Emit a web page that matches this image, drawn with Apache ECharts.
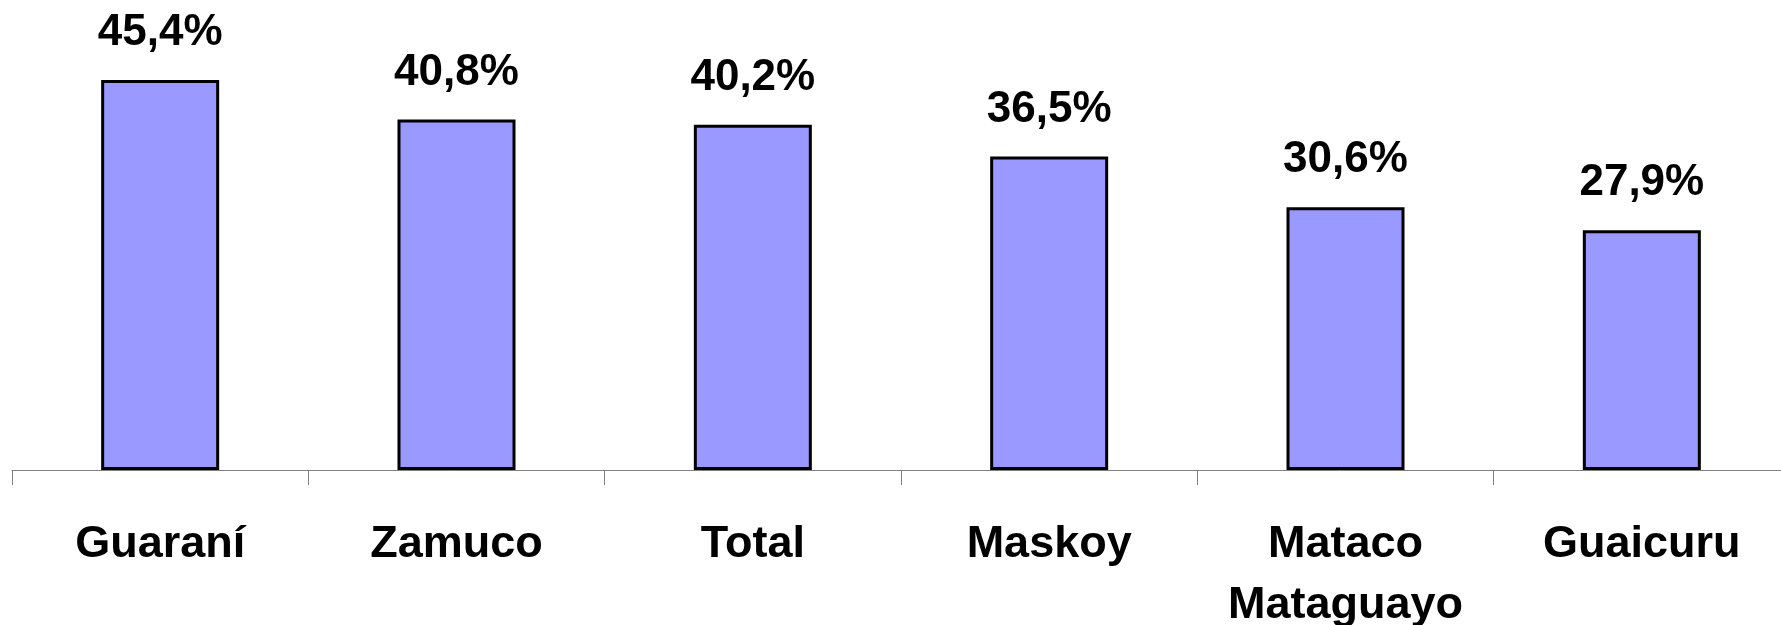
<!DOCTYPE html>
<html>
<head>
<meta charset="utf-8">
<script src="https://cdn.jsdelivr.net/npm/echarts@6/dist/echarts.min.js"></script>
<style>
html,body{margin:0;padding:0;background:#fff;}
#c{width:1781px;height:625px;}
</style>
</head>
<body>
<div id="c"></div>
<script>
var categories = ["Guaraní", "Zamuco", "Total", "Maskoy", "Mataco\nMataguayo", "Guaicuru"];
var values = [45.4, 40.8, 40.2, 36.5, 30.6, 27.9];

var chart = echarts.init(document.getElementById('c'), null, {renderer: 'canvas'});
var font = '"Liberation Sans", Arial, Helvetica, sans-serif';
chart.setOption({
  animation: false,
  backgroundColor: '#ffffff',
  grid: {left: 12, width: 1778, top: 40.5, bottom: 155, containLabel: false, outerBoundsMode: 'none'},
  xAxis: {
    type: 'category',
    data: categories,
    axisLine: {show: true, lineStyle: {color: '#808080', width: 1}},
    axisTick: {show: true, length: 15, lineStyle: {color: '#808080', width: 1}},
    axisLabel: {
      margin: 44,
      color: '#000',
      fontFamily: font,
      fontWeight: 'bold',
      fontSize: 45,
      lineHeight: 61,
      interval: 0
    }
  },
  yAxis: {
    type: 'value',
    min: 0,
    max: 50,
    show: false,
    splitLine: {show: false}
  },
  series: [{
    type: 'bar',
    data: values,
    barWidth: 118,
    itemStyle: {color: '#9999FF', borderColor: '#000', borderWidth: 3},
    label: {
      show: true,
      position: 'top',
      distance: 25,
      color: '#000',
      fontFamily: font,
      fontWeight: 'bold',
      fontSize: 44,
      lineHeight: 44,
      formatter: function (p) { return p.value.toFixed(1).replace('.', ',') + '%'; }
    }
  }]
});
</script>
</body>
</html>
